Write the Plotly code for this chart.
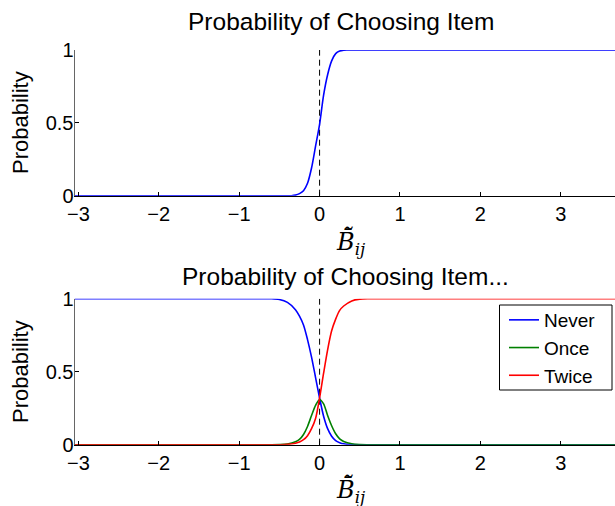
import plotly.graph_objects as go

# ---- data ----
x_top = [-3.05, -0.5, -0.35, -0.3, -0.25, -0.2, -0.15, -0.1, -0.05, 0.0, 0.05, 0.1, 0.15, 0.2, 0.25, 0.3, 0.35, 0.5, 3.7]
p_choose = [0.0, 0.0, 0.0, 0.004, 0.014, 0.034, 0.085, 0.19, 0.34, 0.49, 0.69, 0.83, 0.925, 0.975, 0.993, 0.999, 1.0, 1.0, 1.0]

x_bot = [-3.05, -0.7, -0.6, -0.5, -0.4, -0.3, -0.25, -0.2, -0.15, -0.1, -0.05, 0.0, 0.05, 0.1, 0.15, 0.2, 0.25, 0.3, 0.4, 0.5, 0.6, 0.7, 3.7]
p_never = [1.0, 1.0, 1.0, 0.995, 0.975, 0.925, 0.88, 0.82, 0.72, 0.60, 0.46, 0.32, 0.195, 0.11, 0.058, 0.028, 0.014, 0.006, 0.001, 0.0, 0.0, 0.0, 0.0]
p_once = [0.0, 0.0, 0.0, 0.001, 0.005, 0.02, 0.036, 0.07, 0.125, 0.2, 0.27, 0.31, 0.28, 0.2, 0.13, 0.075, 0.04, 0.022, 0.006, 0.001, 0.0, 0.0, 0.0]
p_twice = [0.0, 0.0, 0.0, 0.0, 0.002, 0.01, 0.018, 0.034, 0.062, 0.11, 0.18, 0.32, 0.49, 0.65, 0.78, 0.86, 0.92, 0.95, 0.985, 0.997, 1.0, 1.0, 1.0]

series_names = ["Never", "Once", "Twice"]
series_colors = ["#0000ff", "#008000", "#ff0000"]
x_ticks = [-3, -2, -1, 0, 1, 2, 3]
x_ticktext = ["\u22123", "\u22122", "\u22121", "0", "1", "2", "3"]
y_ticks = [0, 0.5, 1]
y_ticktext = ["0", "0.5", "1"]
x_range = [-3.048, 3.674]

W, H = 615, 506
fig = go.Figure()

# dashed reference lines at x = 0
for ax in ["", "2"]:
    fig.add_trace(go.Scatter(x=[0, 0], y=[0, 1], mode="lines", xaxis="x" + ax, yaxis="y" + ax,
                             line=dict(color="black", width=1, dash="6px,4px"), showlegend=False,
                             hoverinfo="skip"))

fig.add_trace(go.Scatter(x=x_top, y=p_choose, mode="lines", xaxis="x", yaxis="y",
                         line=dict(color="#0000ff", width=1.6, shape="spline", smoothing=0.8),
                         showlegend=False))

for name, col, vals in zip(series_names, series_colors, [p_never, p_once, p_twice]):
    fig.add_trace(go.Scatter(x=x_bot, y=vals, mode="lines", name=name, xaxis="x2", yaxis="y2",
                             line=dict(color=col, width=1.6, shape="spline", smoothing=0.8)))


def px_x(p):
    return p / W


def px_y(p):
    return 1 - p / H


tickfont = dict(family="Liberation Sans, Arial, sans-serif", size=20, color="black")
xcommon = dict(range=x_range, tickvals=x_ticks, ticktext=x_ticktext, automargin=False,
               ticks="inside", ticklen=4, tickcolor="black", showline=True, linecolor="black", linewidth=1,
               showgrid=False, zeroline=False, tickfont=tickfont, domain=[px_x(74.5), 1.0])
ycommon = dict(range=[0, 1], tickvals=y_ticks, ticktext=y_ticktext, automargin=False,
               ticks="inside", ticklen=4, tickcolor="black", showline=True, linecolor="#666666", linewidth=1,
               showgrid=False, zeroline=False, tickfont=tickfont, ticklabelstandoff=-4)

fig.update_layout(
    width=W, height=H, margin=dict(l=0, r=0, t=0, b=0, autoexpand=False),
    paper_bgcolor="white", plot_bgcolor="white",
    xaxis=dict(xcommon, anchor="y"),
    yaxis=dict(ycommon, anchor="x", domain=[px_y(195.7), px_y(50)]),
    xaxis2=dict(xcommon, anchor="y2"),
    yaxis2=dict(ycommon, anchor="x2", domain=[px_y(444.7), px_y(298.7)]),
    legend=dict(x=px_x(504), y=px_y(301), xanchor="left", yanchor="top",
                borderwidth=0, bgcolor="rgba(0,0,0,0)",
                font=dict(family="Liberation Sans, Arial, sans-serif", size=19, color="black"),
                tracegroupgap=0, itemwidth=30),
    showlegend=True,
)
# legend frame
fig.add_shape(type="rect", xref="paper", yref="paper", x0=px_x(499.5), x1=px_x(612), y0=px_y(390), y1=px_y(305),
              line=dict(color="black", width=1), fillcolor="white", layer="above")

titlefont = dict(family="Liberation Sans, Arial, sans-serif", size=24.5, color="black")
labfont = dict(family="Liberation Sans, Arial, sans-serif", size=22, color="black")
xlabfont = dict(family="DejaVu Serif, Liberation Serif, serif", size=24, color="black")
xlab = "<i>B\u0304\u0303</i><sub><i>ij</i></sub>"

annots = [
    dict(text="Probability of Choosing Item", x=px_x(341), y=px_y(22), font=titlefont),
    dict(text="Probability of Choosing Item...", x=px_x(345), y=px_y(276), font=titlefont),
    dict(text="Probability", x=px_x(20), y=px_y(123), font=labfont, textangle=-90),
    dict(text="Probability", x=px_x(20), y=px_y(372), font=labfont, textangle=-90),
    dict(text=xlab, x=px_x(350), y=px_y(242), font=xlabfont),
    dict(text=xlab, x=px_x(350), y=px_y(490), font=xlabfont),
]
for a in annots:
    fig.add_annotation(xref="paper", yref="paper", showarrow=False, xanchor="center", yanchor="middle", **a)

fig.write_html("out.html")
